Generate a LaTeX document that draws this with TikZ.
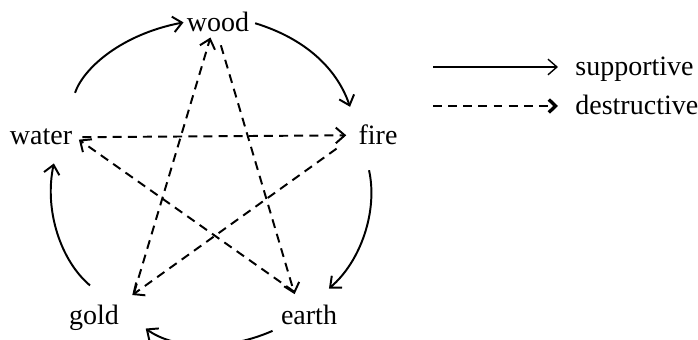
\documentclass[tikz,border=0pt]{standalone}
\usepackage{fontspec}
\setmainfont{Liberation Serif}
\usetikzlibrary{arrows.meta}

\begin{document}
\begin{tikzpicture}[
  x=0.357pt, y=0.357pt,
  elem/.style={inner sep=1pt, anchor=base},
  lab/.style={inner sep=1pt, anchor=base west},
  sup/.style={draw=black, line width=0.7pt, -{Straight Barb[length=3.2pt,width=5.6pt]}},
  des/.style={draw=black, line width=0.7pt, dash pattern=on 3.2pt off 2.2pt,
              -{Straight Barb[length=3.2pt,width=5.6pt]}},
  deskey/.style={des, -{Straight Barb[length=2.4pt,width=4.6pt,line width=1.2pt]}},
]
\useasboundingbox (0,0) rectangle (698,340);
\node[elem] (wood)  at (218,308) {wood};
\node[elem] (fire)  at (378,195) {fire};
\node[elem] (water) at (41,195)  {water};
\node[elem] (gold)  at (94,15)   {gold};
\node[elem] (earth) at (309,15)  {earth};
% supportive ring
\draw[sup, shorten <=12.5pt] ([shift={(-12,0)}]water.north east) to[bend left=30] (wood.west);
\draw[sup, shorten <=1pt, shorten >=5.7pt] (wood.east) to[bend left=27] (fire.north west);
\draw[sup, shorten <=7.9pt, shorten >=7.5pt] ([shift={(9,0)}]fire.south west) to[bend left=31] ([shift={(4,0)}]earth.north);
\draw[sup, shorten <=2pt, shorten >=10.4pt] (earth.south west) to[bend left=30] ([shift={(0,7)}]gold.east);
\draw[sup, shorten <=9.3pt, shorten >=5.4pt] ([shift={(16,0)}]gold.north) to[bend left=31] ([shift={(16,0)}]water.south);
% destructive star
\draw[des, shorten <=2.5pt, shorten >=3.2pt] (water.east) -- (fire.west);
\draw[des, shorten <=8.2pt, shorten >=4.4pt] (fire.west) -- (gold.north east);
\draw[des, shorten <=3.7pt, shorten >=0.7pt] ([shift={(9,0)}]gold.north east) -- ([shift={(-7,0)}]wood.south);
\draw[des, shorten <=3.6pt, shorten >=3pt] (wood.south) -- ([shift={(-12,0)}]earth.north);
\draw[des, shorten <=6.8pt, shorten >=1.5pt] (earth.north) -- (water.east);
% key
\node[lab] (suplab) at (572,264) {supportive};
\node[lab] (deslab) at (572,225) {destructive};
\coordinate (supbeg) at (433,273);
\coordinate (desbeg) at (433,234);
\draw[sup, line width=0.5pt, shorten >=5pt] (supbeg) -- (supbeg -| suplab.west);
\draw[deskey, shorten >=5pt] (desbeg) -- (desbeg -| deslab.west);
\end{tikzpicture}
\end{document}
